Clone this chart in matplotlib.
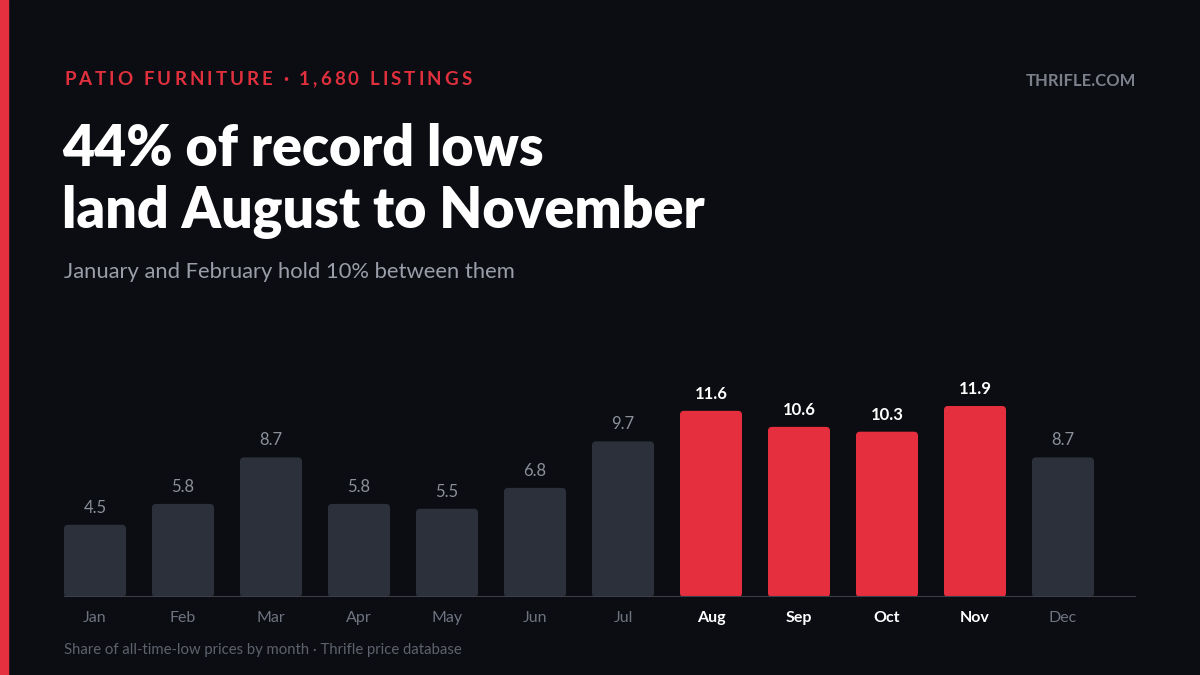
import matplotlib
matplotlib.use("Agg")
import matplotlib.pyplot as plt
from matplotlib.patches import FancyBboxPatch, Rectangle

months = ["Jan", "Feb", "Mar", "Apr", "May", "Jun", "Jul", "Aug", "Sep", "Oct", "Nov", "Dec"]
shares = [4.5, 5.8, 8.7, 5.8, 5.5, 6.8, 9.7, 11.6, 10.6, 10.3, 11.9, 8.7]
highlight = ["Aug", "Sep", "Oct", "Nov"]

kicker = "PATIO FURNITURE · 1,680 LISTINGS"
title_lines = ["44% of record lows", "land August to November"]
subtitle = "January and February hold 10% between them"
brand = "THRIFLE.COM"
footer = "Share of all-time-low prices by month · Thrifle price database"

BG = "#0b0d12"
GREY_BAR = "#2b303b"
RED = "#e52e3e"
FONT = ["Lato", "DejaVu Sans"]

plt.rcParams["font.family"] = FONT
W, H = 1200, 675
fig = plt.figure(figsize=(12, 6.75), dpi=100, facecolor=BG)

def fx(px):
    return px / W

def fy(py):
    return 1 - py / H

# left accent strip
fig.patches.append(Rectangle((0, 0), fx(8), 1, transform=fig.transFigure,
                             color="#e5303f", zorder=0))

# kicker with letter spacing
def spaced_text(x_px, y_px, s, spacing_px, **kw):
    r = fig.canvas.get_renderer()
    x = x_px
    for ch in s:
        t = fig.text(fx(x), fy(y_px), ch, va="center", ha="left", **kw)
        bb = t.get_window_extent(renderer=r)
        x += bb.width + spacing_px

spaced_text(64, 79.5, kicker, 3.05, color="#e0303e", fontsize=13.5, fontweight="bold")
fig.text(fx(1136), fy(81), brand, color="#7b808b", fontsize=12, fontweight="bold",
         ha="right", va="center")

fig.text(fx(62), fy(149), title_lines[0], color="white", fontsize=40, fontweight="heavy",
         ha="left", va="center")
fig.text(fx(62), fy(212), title_lines[1], color="white", fontsize=40, fontweight="heavy",
         ha="left", va="center")
fig.text(fx(64), fy(272), subtitle, color="#9a9ea8", fontsize=15.8, ha="left", va="center")
fig.text(fx(64), fy(650), footer, color="#5d626c", fontsize=10.7, ha="left", va="center")

# axes
ax_left, ax_right, ax_bottom, ax_top = 64, 1136, 597, 380
ax = fig.add_axes([fx(ax_left), 1 - ax_bottom / H, (ax_right - ax_left) / W,
                   (ax_bottom - ax_top) / H])
ax.set_facecolor(BG)
px_per_x = 88.0
px_per_y = 16.05
x0 = -31 / px_per_x
ax.set_xlim(x0, x0 + (ax_right - ax_left) / px_per_x)
ax.set_ylim(0, (ax_bottom - ax_top) / px_per_y)
for s in ax.spines.values():
    s.set_visible(False)
ax.set_yticks([])

xs = list(range(len(months)))
colors = [RED if m in highlight else GREY_BAR for m in months]
bar_w = 62 / px_per_x
bars = ax.bar(xs, shares, width=bar_w, color=colors)
r_px = 4
for b, c in zip(bars, colors):
    b.set_visible(False)
    p = FancyBboxPatch((b.get_x(), b.get_y()), b.get_width(), b.get_height(),
                       boxstyle=f"round,pad=0,rounding_size={r_px / px_per_x}",
                       mutation_aspect=px_per_x / px_per_y,
                       facecolor=c, edgecolor="none", zorder=2)
    ax.add_patch(p)

ax.axhline(0, color="#3a3f4a", lw=1.5, zorder=3)

for x, v, m in zip(xs, shares, months):
    hl = m in highlight
    ax.annotate(f"{v}", (x, v), xytext=(0, 6.5), textcoords="offset points",
                ha="center", va="bottom", fontsize=12,
                color="white" if hl else "#8a8f99",
                fontweight="bold" if hl else "normal")

ax.set_xticks(xs)
ax.set_xticklabels(months)
ax.tick_params(axis="x", length=0, pad=10, labelsize=11.5)
for lbl, m in zip(ax.get_xticklabels(), months):
    if m in highlight:
        lbl.set_color("white")
        lbl.set_fontweight("bold")
    else:
        lbl.set_color("#6e7380")

fig.savefig("out.png", dpi=100, facecolor=BG)
